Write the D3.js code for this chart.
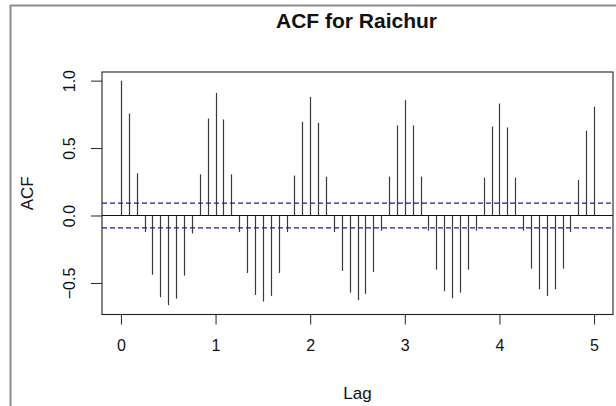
<!DOCTYPE html>
<html>
<head>
<meta charset="utf-8">
<script src="https://cdn.jsdelivr.net/npm/d3@7"></script>
<style>
  html, body { margin: 0; padding: 0; background: #fff; }
  svg { display: block; }
  text { font-family: "Liberation Sans", Arial, sans-serif; fill: #111; }
</style>
</head>
<body>
<svg id="chart" width="616" height="406"></svg>
<script>
// ACF values at lags 0..60 (monthly lags, shown in years)
const acfValues = [
  1.000, 0.756, 0.313, -0.123, -0.439, -0.606, -0.665, -0.616, -0.446, -0.133, 0.305, 0.719,
  0.909, 0.712, 0.305, -0.123, -0.426, -0.589, -0.638, -0.596, -0.426, -0.123, 0.296, 0.695,
  0.880, 0.687, 0.288, -0.123, -0.411, -0.572, -0.628, -0.581, -0.419, -0.113, 0.288, 0.668,
  0.855, 0.668, 0.288, -0.113, -0.402, -0.562, -0.613, -0.572, -0.402, -0.113, 0.281, 0.660,
  0.830, 0.653, 0.281, -0.113, -0.394, -0.547, -0.596, -0.547, -0.394, -0.123, 0.264, 0.628,
  0.806
];
const lagsPerYear = 12;
const confLimit = 0.092;
const xTicks = [0, 1, 2, 3, 4, 5];
const yTicks = [-0.5, 0.0, 0.5, 1.0];
const titleText = "ACF for Raichur";
const xLabel = "Lag";
const yLabel = "ACF";

const data = acfValues.map((v, i) => ({ lag: i / lagsPerYear, acf: v }));

const svg = d3.select("#chart");
const box = { left: 102, right: 613, top: 72, bottom: 314.5 };

// outer frame (gray)
svg.append("line").attr("x1", 10.5).attr("x2", 10.5).attr("y1", 5).attr("y2", 406)
  .attr("stroke", "#8c8c8c").attr("stroke-width", 2);
svg.append("line").attr("x1", 10).attr("x2", 616).attr("y1", 5.5).attr("y2", 5.5)
  .attr("stroke", "#8c8c8c").attr("stroke-width", 2);

const x = d3.scaleLinear().domain([-0.2, 5.2]).range([box.left, box.right]);
const y = d3.scaleLinear().domain([-0.734, 1.064]).range([box.bottom, box.top]);

// bars
svg.append("g").selectAll("line").data(data).join("line")
  .attr("x1", d => Math.round(x(d.lag)) + 0.5)
  .attr("x2", d => Math.round(x(d.lag)) + 0.5)
  .attr("y1", y(0))
  .attr("y2", d => y(d.acf))
  .attr("stroke", "#3a3a3a").attr("stroke-width", 1.2);

// zero line
svg.append("line").attr("x1", box.left).attr("x2", box.right)
  .attr("y1", y(0)).attr("y2", y(0)).attr("stroke", "#111").attr("stroke-width", 1.1);

// confidence lines
[confLimit, -confLimit].forEach(c => {
  svg.append("line").attr("x1", box.left).attr("x2", box.right)
    .attr("y1", y(c)).attr("y2", y(c))
    .attr("stroke", "#1a1aa8").attr("stroke-width", 1.2)
    .attr("stroke-dasharray", "5,3");
});

// box
svg.append("rect").attr("x", box.left).attr("y", box.top)
  .attr("width", box.right - box.left).attr("height", box.bottom - box.top)
  .attr("fill", "none").attr("stroke", "#222").attr("stroke-width", 1.1);

// x axis
const xAxis = d3.axisBottom(x).tickValues(xTicks).tickFormat(d3.format("d")).tickSize(10).tickPadding(15);
const gx = svg.append("g").attr("transform", `translate(0,${box.bottom})`).call(xAxis);
gx.select(".domain").remove();
gx.selectAll(".tick line").attr("stroke", "#222");
gx.selectAll(".tick text").attr("font-size", 16).attr("font-family", "Liberation Sans, Arial, sans-serif").attr("fill", "#111");

// y axis
const yAxis = d3.axisLeft(y).tickValues(yTicks).tickFormat(d3.format(".1f")).tickSize(11).tickPadding(0);
const gy = svg.append("g").attr("transform", `translate(${box.left},0)`).call(yAxis);
gy.select(".domain").remove();
gy.selectAll(".tick line").attr("stroke", "#222");
gy.selectAll(".tick text")
  .attr("font-size", 16).attr("font-family", "Liberation Sans, Arial, sans-serif").attr("fill", "#111")
  .attr("x", 0).attr("dy", null)
  .attr("text-anchor", "middle")
  .attr("transform", "translate(-33,0) rotate(-90)")
  .attr("dominant-baseline", "central");

// title
svg.append("text").attr("x", (box.left + box.right) / 2 - 1).attr("y", 28)
  .attr("text-anchor", "middle").attr("font-size", 21).attr("font-weight", "bold")
  .text(titleText);

// axis labels
svg.append("text").attr("x", (box.left + box.right) / 2).attr("y", 399)
  .attr("text-anchor", "middle").attr("font-size", 17).text(xLabel);
svg.append("text")
  .attr("transform", `translate(33,${(box.top + box.bottom) / 2}) rotate(-90)`)
  .attr("text-anchor", "middle").attr("font-size", 17).text(yLabel);
</script>
</body>
</html>
